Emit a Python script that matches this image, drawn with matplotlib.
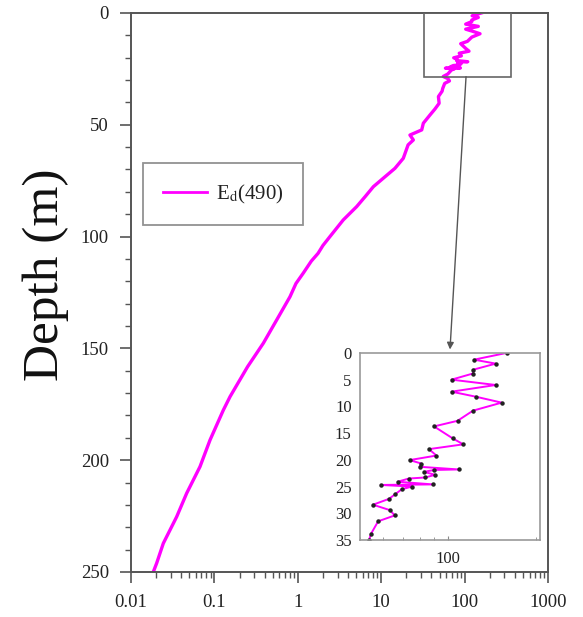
import numpy as np
import matplotlib
matplotlib.use("Agg")
import matplotlib.pyplot as plt
from matplotlib.patches import Rectangle
from matplotlib.ticker import LogLocator, MultipleLocator, NullFormatter, FixedLocator, FixedFormatter

plt.rcParams['font.family'] = ['Liberation Serif', 'DejaVu Serif']
plt.rcParams['mathtext.fontset'] = 'stix'

# Upper 35 m (also shown in the inset)
inset_depth = [0, 1.26, 2.0, 3.15, 3.85, 5.0, 6.0, 7.25, 8.2, 9.3, 10.8, 12.7, 13.75,
               16.0, 17.1, 18.0, 19.2, 20.05, 20.7, 21.3, 21.8, 21.9, 22.25, 22.8,
               23.3, 23.5, 24.1, 24.6, 24.7, 25.0, 25.5, 26.4, 27.3, 28.4, 29.4,
               30.4, 31.5, 33.8, 35.0]
inset_ed = [159, 123, 146, 122, 122, 103, 146, 103, 125, 153, 122, 108, 89.7,
            104, 113, 86.2, 91.4, 74, 81.2, 80, 109, 89.7, 82.9, 90.4,
            83.8, 73.5, 67.3, 89, 58.9, 75.4, 69.6, 66.1, 62.9, 55.4, 63.2,
            65.8, 57.7, 54.6, 53.7]

# Deeper part of the profile
deep_depth = [37.4, 40.4, 43.0, 45.6, 49.3, 52.3, 54.6, 56.8, 59.0, 65.0, 69.5, 73.9,
              77.7, 82.2, 86.6, 92.6, 100.0, 104.0, 107.5, 111.0, 116.4, 121.0, 126.9,
              137.3, 147.7, 158.2, 171.6, 177.6, 191.0, 202.9, 214.8, 225.3, 237.2,
              246.1, 250.0]
deep_ed = [48.5, 49.5, 44.0, 38.5, 32.0, 30.6, 22.1, 24.3, 21.0, 18.4, 14.6, 10.6,
           8.05, 6.4, 5.08, 3.5, 2.43, 2.0, 1.75, 1.45, 1.16, 0.95, 0.806,
           0.558, 0.386, 0.25, 0.154, 0.128, 0.0886, 0.0672, 0.0465, 0.0353, 0.0244,
           0.0203, 0.0185]

main_xticks = [0.01, 0.1, 1, 10, 100, 1000]
main_xticklabels = ['0.01', '0.1', '1', '10', '100', '1000']
main_yticks = [0, 50, 100, 150, 200, 250]
inset_yticks = [0, 5, 10, 15, 20, 25, 30, 35]
legend_label = r'E$_\mathrm{d}$(490)'
ylabel = 'Depth (m)'

# zoom box in the main panel (value range, depth range)
box_x = (32.6, 357)
box_depth = (0, 28.5)

MAG = '#ff00ff'
SP = '#555555'
TXT = '#222222'

fig = plt.figure(figsize=(5.83, 6.17), dpi=100)
ax = fig.add_axes([0.2247, 0.073, 0.7153, 0.906])

depth_all = inset_depth + deep_depth
ed_all = inset_ed + deep_ed
ax.plot(ed_all, depth_all, color=MAG, lw=2.4, label=legend_label)

ax.set_xscale('log')
ax.set_xlim(0.01, 1000)
ax.set_ylim(250, 0)
ax.xaxis.set_major_locator(FixedLocator(main_xticks))
ax.xaxis.set_major_formatter(FixedFormatter(main_xticklabels))
ax.xaxis.set_minor_locator(LogLocator(base=10, subs=np.arange(2, 10)))
ax.xaxis.set_minor_formatter(NullFormatter())
ax.yaxis.set_major_locator(FixedLocator(main_yticks))
ax.yaxis.set_minor_locator(MultipleLocator(10))
ax.tick_params(which='major', direction='out', length=8, width=1.2, color=SP,
               labelsize=13.5, labelcolor=TXT, pad=8)
ax.tick_params(which='minor', direction='out', length=4.5, width=1.0, color=SP)
for s in ax.spines.values():
    s.set_color(SP)
    s.set_linewidth(1.4)

rect = Rectangle((box_x[0], box_depth[0]), box_x[1] - box_x[0], box_depth[1] - box_depth[0],
                 fill=False, edgecolor='#666666', lw=1.2, zorder=3)
ax.add_patch(rect)

leg = ax.legend(loc='upper left', bbox_to_anchor=(0.029, 0.732), frameon=True,
                fancybox=False, edgecolor='#777777', fontsize=15, handlelength=2.1,
                borderpad=0.95, handletextpad=0.45, borderaxespad=0)
leg.get_frame().set_linewidth(1.3)
for t in leg.get_texts():
    t.set_color(TXT)
for l in leg.get_lines():
    l.set_linewidth(2.0)

fig.text(0.079, 0.555, ylabel, rotation=90, ha='center', va='center',
         fontsize=37, color='#111111')

# Inset
ins = fig.add_axes([0.6175, 0.1248, 0.3087, 0.3032])
ins.plot(inset_ed, inset_depth, color=MAG, lw=1.4, marker='o', markersize=2.2,
         markerfacecolor='#222222', markeredgecolor='#222222')
ins.set_xscale('log')
ins.set_xlim(50, 207)
ins.set_ylim(35, 0)
ins.xaxis.set_major_locator(FixedLocator([100]))
ins.xaxis.set_major_formatter(FixedFormatter(['100']))
ins.xaxis.set_minor_locator(LogLocator(base=10, subs=np.arange(2, 10)))
ins.xaxis.set_minor_formatter(NullFormatter())
ins.yaxis.set_major_locator(FixedLocator(inset_yticks))
ins.tick_params(axis='y', length=0, labelsize=12, labelcolor=TXT, pad=6)
ins.tick_params(axis='x', which='major', direction='in', length=3, color='#888888',
                labelsize=12, labelcolor=TXT, pad=8)
ins.tick_params(axis='x', which='minor', direction='in', length=2, color='#888888')
for s in ins.spines.values():
    s.set_color('#999999')
    s.set_linewidth(1.2)

# Arrow from zoom box to inset
ax.annotate('', xy=(66.8, 150.5), xytext=(104, box_depth[1]),
            arrowprops=dict(arrowstyle='-|>', color='#555555', lw=1.0,
                            mutation_scale=10, shrinkA=0, shrinkB=0))

fig.savefig('out.png', dpi=100)
